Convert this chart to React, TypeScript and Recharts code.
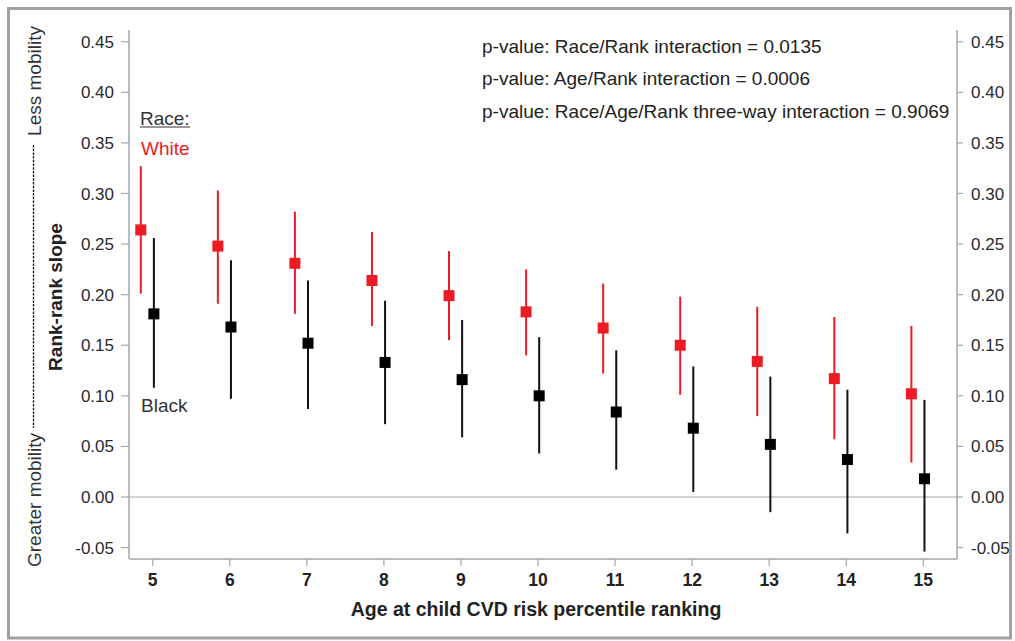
import React from "react";
import {
  ComposedChart,
  Scatter,
  XAxis,
  YAxis,
  ErrorBar,
  ReferenceLine,
} from "recharts";

// ---- Data ----
const ages = [5, 6, 7, 8, 9, 10, 11, 12, 13, 14, 15];
const whiteSlope = [0.264, 0.248, 0.231, 0.214, 0.199, 0.183, 0.167, 0.15, 0.134, 0.117, 0.102];
const whiteLower = [0.201, 0.191, 0.181, 0.169, 0.155, 0.14, 0.122, 0.101, 0.08, 0.057, 0.034];
const whiteUpper = [0.327, 0.303, 0.282, 0.262, 0.243, 0.225, 0.211, 0.198, 0.188, 0.178, 0.169];
const blackSlope = [0.181, 0.168, 0.152, 0.133, 0.116, 0.1, 0.084, 0.068, 0.052, 0.037, 0.018];
const blackLower = [0.108, 0.097, 0.087, 0.072, 0.059, 0.043, 0.027, 0.005, -0.015, -0.036, -0.054];
const blackUpper = [0.256, 0.234, 0.214, 0.194, 0.175, 0.158, 0.145, 0.129, 0.119, 0.106, 0.096];
const yTicks = [-0.05, 0, 0.05, 0.1, 0.15, 0.2, 0.25, 0.3, 0.35, 0.4, 0.45];
const pValueLines = [
  "p-value: Race/Rank interaction = 0.0135",
  "p-value: Age/Rank interaction = 0.0006",
  "p-value: Race/Age/Rank three-way interaction = 0.9069",
];

const WHITE_OFFSET = -0.155;
const BLACK_OFFSET = 0.015;

const whiteData = ages.map((a, i) => ({
  x: a + WHITE_OFFSET,
  y: whiteSlope[i],
  err: [whiteSlope[i] - whiteLower[i], whiteUpper[i] - whiteSlope[i]],
}));
const blackData = ages.map((a, i) => ({
  x: a + BLACK_OFFSET,
  y: blackSlope[i],
  err: [blackSlope[i] - blackLower[i], blackUpper[i] - blackSlope[i]],
}));

const FONT = "'Liberation Sans', Arial, Helvetica, sans-serif";
const RED = "#ED1C24";
const AXIS = "#A3A7AB";

const square = (color: string) => (props: any) => {
  const { cx, cy } = props;
  if (cx == null || cy == null) return <g />;
  return <rect x={cx - 5.5} y={cy - 5.5} width={11} height={11} fill={color} />;
};

export default function App() {
  return (
    <div style={{ position: "absolute", left: 0, top: 0, width: 1015, height: 641, background: "#fff", fontFamily: FONT }}>
      <ComposedChart
        width={1015}
        height={641}
        margin={{ top: 30, right: 0, bottom: 32, left: 69 }}
        style={{ fontFamily: FONT }}
      >
        <XAxis
          xAxisId="main"
          dataKey="x"
          type="number"
          domain={[4.692, 15.437]}
          ticks={ages}
          allowDataOverflow
          height={50}
          tickSize={7}
          tickMargin={8}
          stroke={AXIS}
          axisLine={{ stroke: AXIS, strokeWidth: 1.5 }}
          tickLine={{ stroke: AXIS, strokeWidth: 1.2 }}
          tick={{ fill: "#222", fontSize: 17.5, fontWeight: 700, fontFamily: FONT }}
        />
        <XAxis
          xAxisId="top"
          orientation="top"
          type="number"
          domain={[4.692, 15.437]}
          height={0}
          tick={false}
          tickLine={false}
          axisLine={{ stroke: AXIS, strokeWidth: 1.5 }}
        />
        <YAxis
          yAxisId="left"
          type="number"
          domain={[-0.0613, 0.4616]}
          ticks={yTicks}
          allowDataOverflow
          width={60}
          tickSize={8}
          tickMargin={7}
          axisLine={{ stroke: AXIS, strokeWidth: 1.5 }}
          tickLine={{ stroke: AXIS, strokeWidth: 1.2 }}
          tickFormatter={(v: number) => v.toFixed(2)}
          tick={{ fill: "#2a2a2a", fontSize: 17, fontFamily: FONT }}
        />
        <YAxis
          yAxisId="right"
          orientation="right"
          type="number"
          domain={[-0.0613, 0.4616]}
          ticks={yTicks}
          allowDataOverflow
          width={58}
          tickSize={6}
          tickMargin={8}
          axisLine={{ stroke: AXIS, strokeWidth: 1.5 }}
          tickLine={{ stroke: AXIS, strokeWidth: 1.2 }}
          tickFormatter={(v: number) => v.toFixed(2)}
          tick={{ fill: "#2a2a2a", fontSize: 17, fontFamily: FONT }}
        />
        <ReferenceLine xAxisId="main" yAxisId="left" y={0} stroke="#C4C4C4" strokeWidth={1.5} />
        <Scatter
          xAxisId="main"
          yAxisId="left"
          data={whiteData}
          dataKey="y"
          isAnimationActive={false}
          shape={square(RED)}
        >
          <ErrorBar dataKey="err" direction="y" width={0} stroke={RED} strokeWidth={2} isAnimationActive={false} />
        </Scatter>
        <Scatter
          xAxisId="main"
          yAxisId="left"
          data={blackData}
          dataKey="y"
          isAnimationActive={false}
          shape={square("#000")}
        >
          <ErrorBar dataKey="err" direction="y" width={0} stroke="#111" strokeWidth={2} isAnimationActive={false} />
        </Scatter>
      </ComposedChart>
      <svg
        width={1015}
        height={641}
        style={{ position: "absolute", left: 0, top: 0, pointerEvents: "none", fontFamily: FONT }}
      >
        <rect x={8.5} y={8.5} width={1002} height={629.5} fill="none" stroke="#A0A0A0" strokeWidth={3} />
        {/* Left side orientation labels */}
        <text transform="translate(41,81) rotate(-90)" textAnchor="middle" fontSize={19} fill="#333">
          Less mobility
        </text>
        <line x1={33.5} y1={145} x2={33.5} y2={428} stroke="#111" strokeWidth={1.3} strokeDasharray="2.5 1.2" />
        <text transform="translate(41,500) rotate(-90)" textAnchor="middle" fontSize={19} fill="#333">
          Greater mobility
        </text>
        <text transform="translate(61.5,297) rotate(-90)" textAnchor="middle" fontSize={19} fontWeight={700} fill="#222">
          Rank-rank slope
        </text>
        {/* Legend text */}
        <text x={140} y={124.5} fontSize={19} fill="#333">
          Race:
        </text>
        <line x1={140} y1={127} x2={190} y2={127} stroke="#333" strokeWidth={1.2} />
        <text x={141} y={155} fontSize={19} fill={RED}>
          White
        </text>
        <text x={141} y={411.5} fontSize={19} fill="#333">
          Black
        </text>
        {/* p-values */}
        {pValueLines.map((t, i) => (
          <text key={i} x={482} y={52.5 + i * 32.5} fontSize={19} fill="#222">
            {t}
          </text>
        ))}
        {/* X axis title */}
        <text x={536} y={616} textAnchor="middle" fontSize={19.5} fontWeight={700} fill="#222">
          Age at child CVD risk percentile ranking
        </text>
      </svg>
    </div>
  );
}
